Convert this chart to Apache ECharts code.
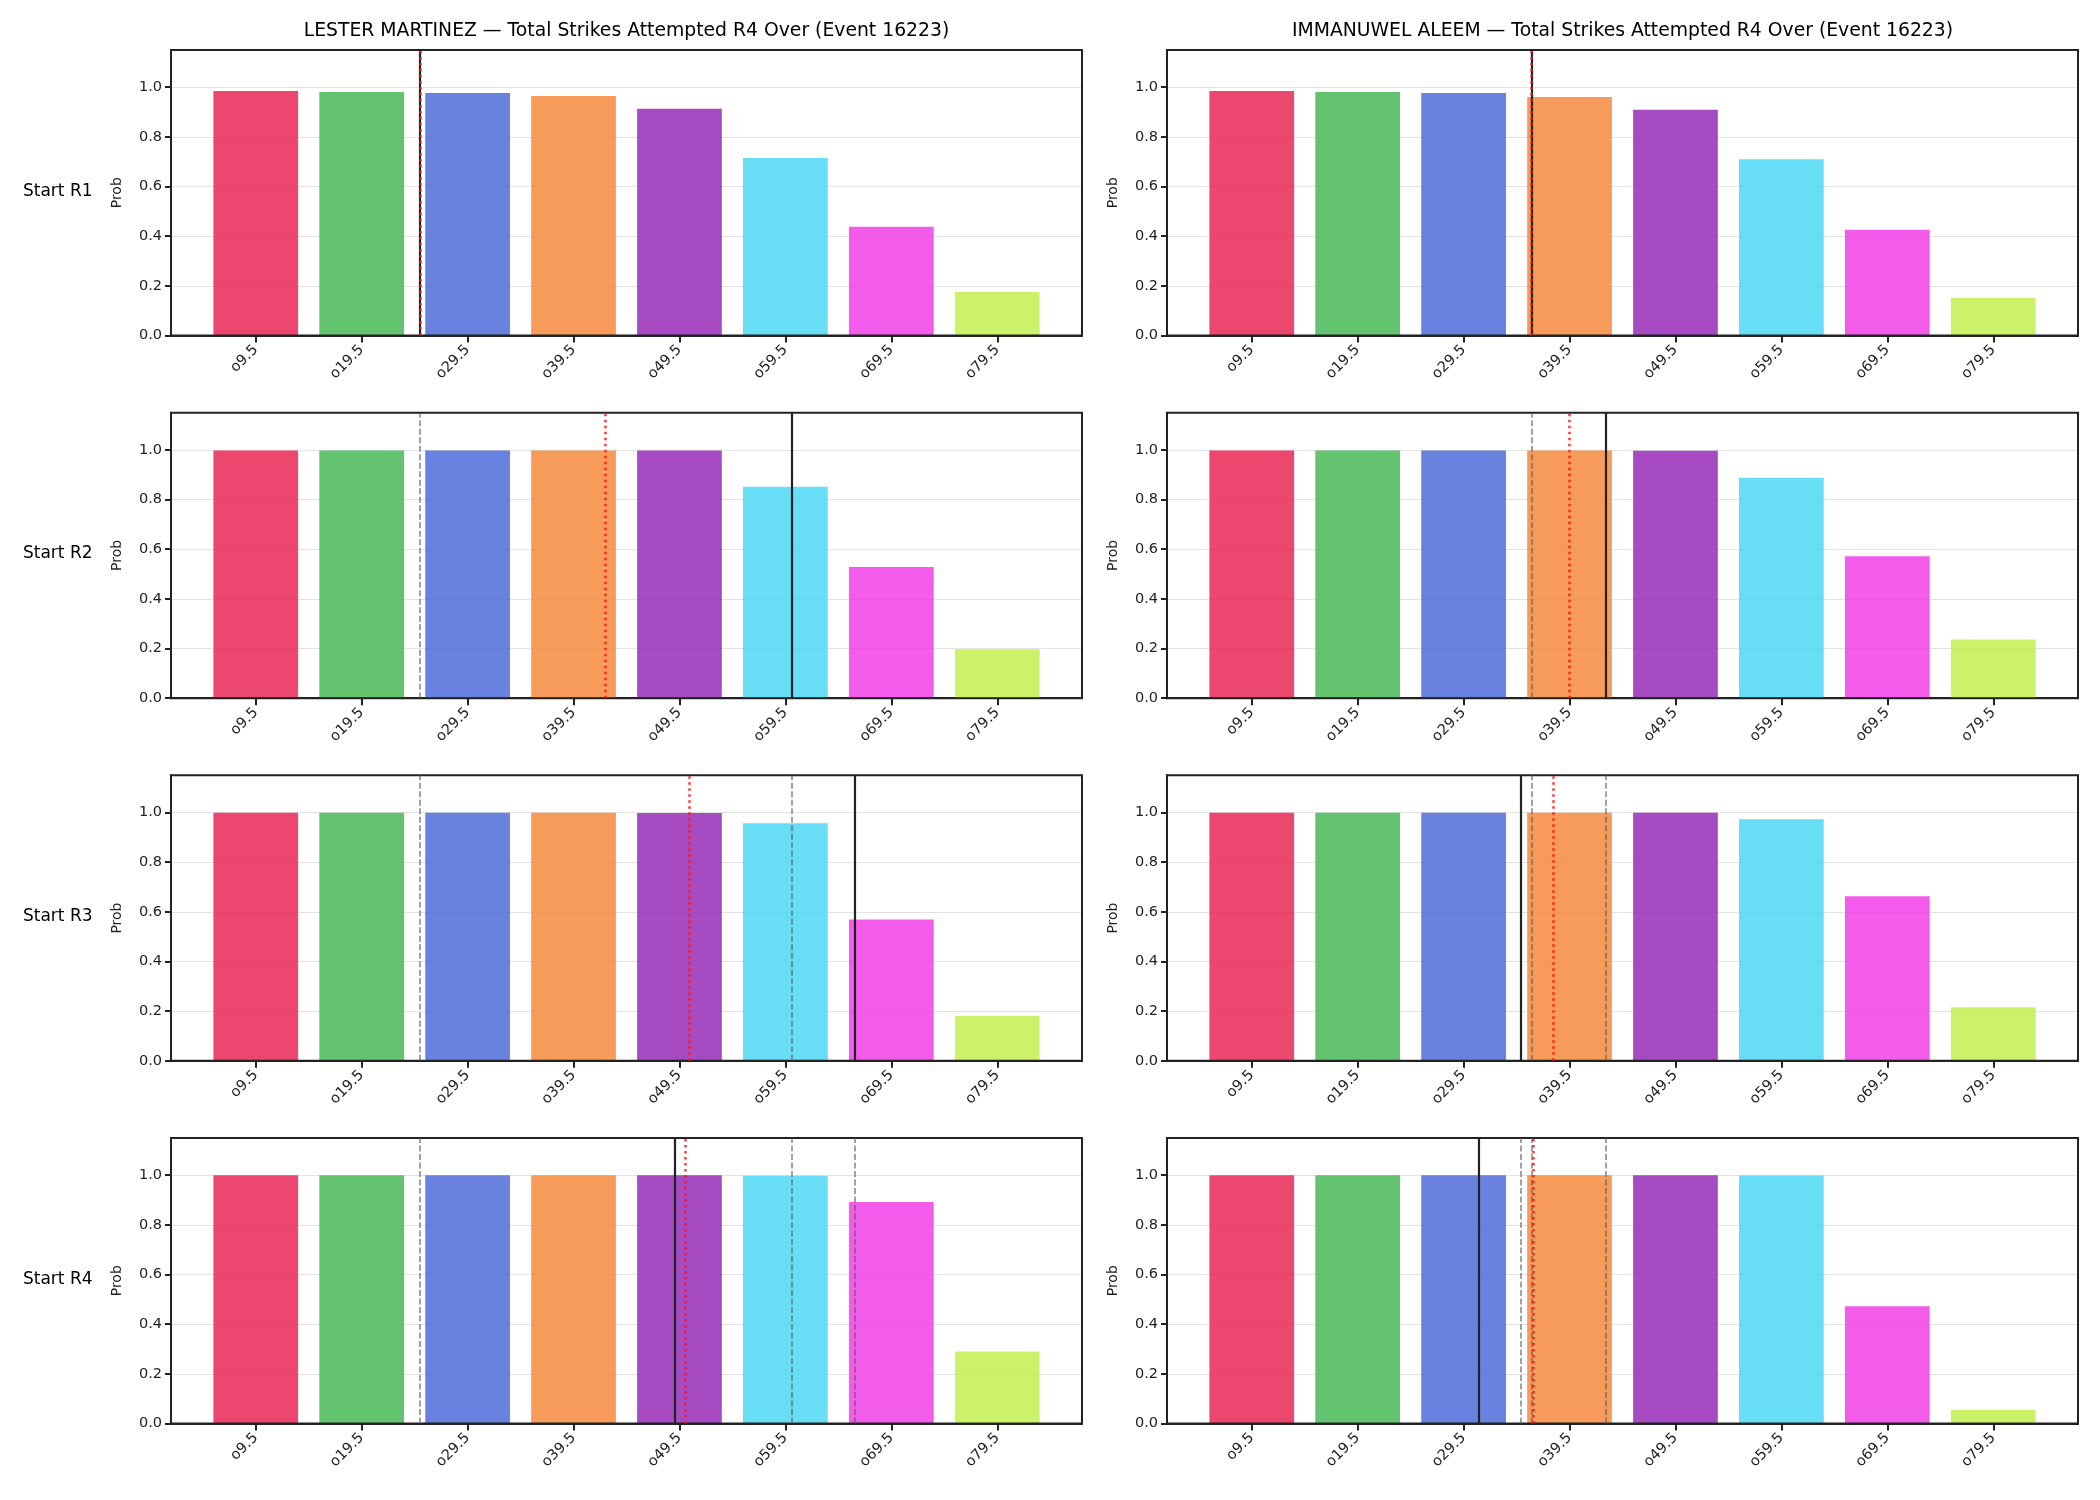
<!DOCTYPE html>
<html>
<head>
<meta charset="utf-8">
<script src="https://cdn.jsdelivr.net/npm/echarts@6/dist/echarts.min.js"></script>
<style>
html, body { margin: 0; padding: 0; background: #fff; }
#main { width: 2100px; height: 1500px; }
</style>
</head>
<body>
<div id="main"></div>
<script>
// data
var lines = ['o9.5', 'o19.5', 'o29.5', 'o39.5', 'o49.5', 'o59.5', 'o69.5', 'o79.5'];
var rounds = ['Start R1', 'Start R2', 'Start R3', 'Start R4'];
var fighters = ['LESTER MARTINEZ', 'IMMANUWEL ALEEM'];
var titleTail = ' \u2014 Total Strikes Attempted R4 Over (Event 16223)';

var martinezProb = [
    [0.985, 0.981, 0.977, 0.965, 0.913, 0.715, 0.438, 0.176],
    [0.998, 0.998, 0.998, 0.998, 0.998, 0.852, 0.528, 0.197],
    [0.999, 0.999, 0.999, 0.999, 0.998, 0.957, 0.569, 0.180],
    [1.000, 1.000, 1.000, 1.000, 1.000, 0.998, 0.892, 0.290]
];
var aleemProb = [
    [0.985, 0.981, 0.977, 0.961, 0.909, 0.710, 0.426, 0.152],
    [0.998, 0.998, 0.998, 0.998, 0.997, 0.888, 0.572, 0.236],
    [0.999, 0.999, 0.999, 0.999, 0.999, 0.973, 0.663, 0.216],
    [1.000, 1.000, 1.000, 1.000, 1.000, 0.999, 0.472, 0.055]
];

// marker positions, in units of the line index (0 = o9.5)
var martinezNow = [1.55, 5.06, 5.65, 3.96];
var martinezProj = [1.55, 3.30, 4.09, 4.05];
var aleemNow = [2.64, 3.34, 2.54, 2.14];
var aleemProj = [2.64, 3.00, 2.845, 2.656];

var yTicks = [0, 0.2, 0.4, 0.6, 0.8, 1.0];
var xTicks = [0, 1, 2, 3, 4, 5, 6, 7];
var barColors = ['#e6194b', '#3cb44b', '#4363d8', '#f58231', '#911eb4', '#42d4f4', '#f032e6', '#bfef45'];

var probs = [martinezProb, aleemProb];
var nowPos = [martinezNow, aleemNow];
var projPos = [martinezProj, aleemProj];

// layout
var colLeft = [171, 1167];
var colWidth = 911;
var rowTop = [50, 412.7, 775.3, 1138];
var rowHeight = 285.5;
var xMin = -0.8, xMax = 7.8;
var font = 'DejaVu Sans';

var dom = document.getElementById('main');
var myChart = echarts.init(dom);

var grids = [], xAxes = [], yAxes = [], series = [], graphics = [];
var idx = 0;
var barW = 0.8 * colWidth / (xMax - xMin);
var spine = { color: '#222', width: 2 };
var tickStyle = { color: '#222', width: 2 };

for (var r = 0; r < rounds.length; r++) {
    for (var c = 0; c < 2; c++) {
        // frame sits above the bars, like the spines
        grids.push({
            left: colLeft[c], top: rowTop[r], width: colWidth, height: rowHeight,
            show: true, z: 5, borderColor: '#222', borderWidth: 2, backgroundColor: 'transparent'
        });
        xAxes.push({
            type: 'value', gridIndex: idx, min: xMin, max: xMax,
            axisLine: { show: true, onZero: false, lineStyle: spine },
            splitLine: { show: false },
            axisTick: { show: true, customValues: xTicks, length: 7, lineStyle: tickStyle },
            axisLabel: {
                customValues: xTicks,
                rotate: 45, margin: 12, fontSize: 14.5, color: '#222', fontFamily: font,
                formatter: function (v) { return lines[Math.round(v)]; }
            }
        });
        yAxes.push({
            type: 'value', gridIndex: idx, min: 0, max: 1.15,
            name: 'Prob', nameLocation: 'middle', nameGap: 47,
            nameTextStyle: { fontSize: 14, color: '#222', fontFamily: font },
            axisLine: { show: true, onZero: false, lineStyle: spine },
            axisTick: { show: true, customValues: yTicks, length: 6, lineStyle: tickStyle },
            axisLabel: {
                customValues: yTicks, margin: 9, fontSize: 14.5, color: '#222', fontFamily: font,
                formatter: function (v) { return v.toFixed(1); }
            },
            splitLine: { show: true, lineStyle: { color: '#e3e3e3', width: 1 } }
        });

        var data = [];
        for (var i = 0; i < lines.length; i++) {
            data.push({ value: [i, probs[c][r][i]], itemStyle: { color: barColors[i], opacity: 0.8 } });
        }

        // earlier rounds' current marks shown as grey dashes
        var marks = [];
        for (var k = 0; k < r; k++) {
            marks.push({ xAxis: nowPos[c][k], lineStyle: { color: 'rgba(90,90,90,0.75)', width: 1.5, type: [6, 2.5] } });
        }
        marks.push({ xAxis: nowPos[c][r], lineStyle: { color: '#222', width: 2.2, type: 'solid' } });
        marks.push({ xAxis: projPos[c][r], lineStyle: { color: 'rgba(255,20,20,0.85)', width: 2.5, type: [2.5, 3.5] } });

        series.push({
            type: 'bar', xAxisIndex: idx, yAxisIndex: idx,
            barWidth: barW, data: data,
            markLine: {
                silent: true, symbol: ['none', 'none'], label: { show: false },
                animation: false, data: marks
            }
        });
        idx++;
    }
    graphics.push({
        type: 'text', left: 23, top: rowTop[r] + rowHeight / 2 - 10,
        style: { text: rounds[r], fontSize: 17, fill: '#000', fontFamily: font }
    });
}

for (var c2 = 0; c2 < 2; c2++) {
    graphics.push({
        type: 'text', x: colLeft[c2] + colWidth / 2, y: 31,
        style: {
            text: fighters[c2] + titleTail, fontSize: 18.8, fill: '#000', fontFamily: font,
            textAlign: 'center', textVerticalAlign: 'middle'
        }
    });
}

var option = {
    animation: false,
    backgroundColor: '#fff',
    grid: grids,
    xAxis: xAxes,
    yAxis: yAxes,
    series: series,
    graphic: graphics
};

if (option && typeof option === "object") {
    myChart.setOption(option, true);
}
</script>
</body>
</html>
